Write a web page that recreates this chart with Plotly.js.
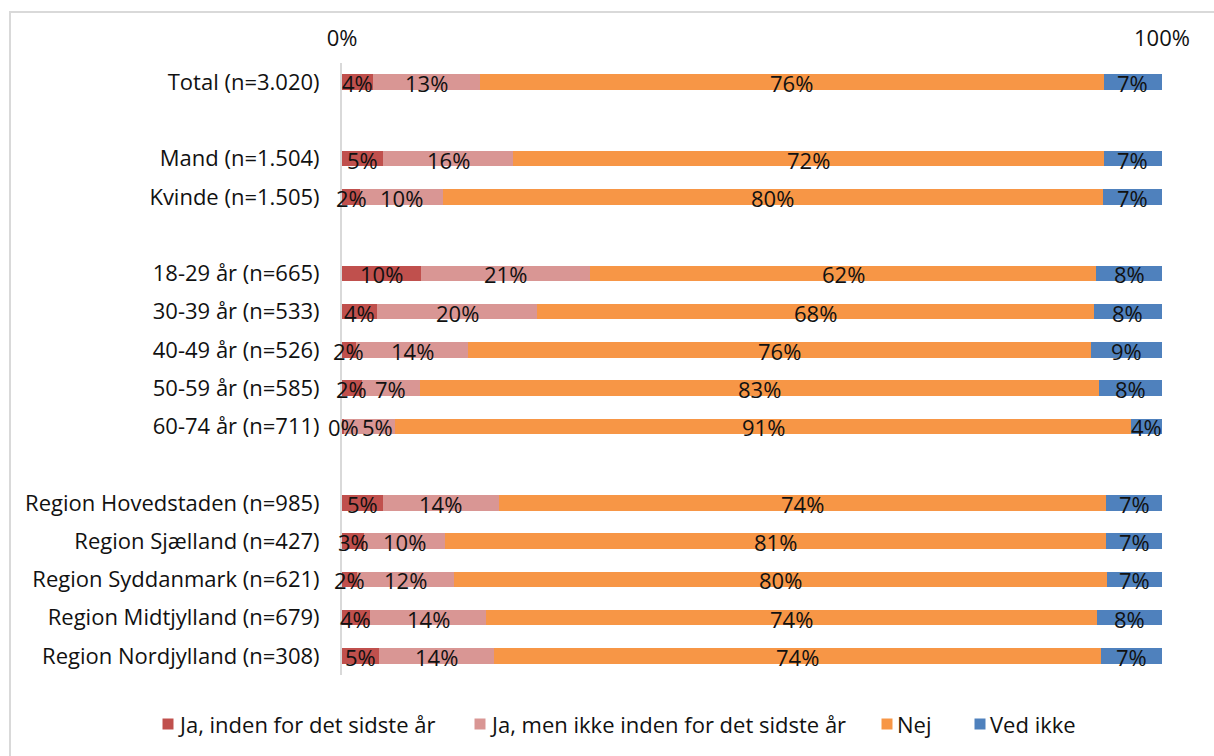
<!DOCTYPE html>
<html>
<head>
<meta charset="utf-8">
<script src="https://cdn.plot.ly/plotly-3.0.1.min.js"></script>
<style>
  html, body { margin: 0; padding: 0; background: #ffffff; }
  #chart { width: 1214px; height: 756px; }
</style>
</head>
<body>
<div id="chart"></div>
<script>
// Categories (blank entries are spacer rows)
const categories = [
  "Total (n=3.020)", " ",
  "Mand (n=1.504)", "Kvinde (n=1.505)", "  ",
  "18-29 år (n=665)", "30-39 år (n=533)", "40-49 år (n=526)", "50-59 år (n=585)", "60-74 år (n=711)", "   ",
  "Region Hovedstaden (n=985)", "Region Sjælland (n=427)", "Region Syddanmark (n=621)",
  "Region Midtjylland (n=679)", "Region Nordjylland (n=308)"
];

const seriesNames = ["Ja, inden for det sidste år", "Ja, men ikke inden for det sidste år", "Nej", "Ved ikke"];

// Values (share in %)
const jaSidsteAar   = [3.8, null, 5.0, 2.2, null, 9.6, 4.3, 1.7, 2.4, 0.3, null, 5.0, 2.7, 1.8, 3.4, 4.5];
const jaIkkeSidste  = [13.0, null, 15.9, 10.1, null, 20.6, 19.5, 13.7, 7.1, 6.2, null, 14.1, 9.9, 11.8, 14.2, 14.0];
const nej           = [76.1, null, 72.0, 80.5, null, 61.8, 67.9, 75.9, 82.8, 89.7, null, 74.1, 80.6, 79.7, 74.5, 74.1];
const vedIkke       = [7.1, null, 7.1, 7.2, null, 8.0, 8.3, 8.7, 7.7, 3.8, null, 6.8, 6.8, 6.7, 7.9, 7.4];

// Data labels as printed on the chart
const lblJaSidste  = ["4%", "", "5%", "2%", "", "10%", "4%", "2%", "2%", "0%", "", "5%", "3%", "2%", "4%", "5%"];
const lblJaIkke    = ["13%", "", "16%", "10%", "", "21%", "20%", "14%", "7%", "5%", "", "14%", "10%", "12%", "14%", "14%"];
const lblNej       = ["76%", "", "72%", "80%", "", "62%", "68%", "76%", "83%", "91%", "", "74%", "81%", "80%", "74%", "74%"];
const lblVedIkke   = ["7%", "", "7%", "7%", "", "8%", "8%", "9%", "8%", "4%", "", "7%", "7%", "7%", "8%", "7%"];

const xTickVals = [0, 100];
const xTickText = ["0%", "100%"];

const colors = ["#C0504D", "#D99694", "#F79646", "#4F81BD"];
const FONT = "Open Sans, Lato, sans-serif";
const FS = 22;
const TXT = "#111111";

const valueSets = [jaSidsteAar, jaIkkeSidste, nej, vedIkke];
const labelSets = [lblJaSidste, lblJaIkke, lblNej, lblVedIkke];

// plot-area geometry (pixels)
const M = { l: 342, r: 52, t: 63, b: 81 };
const PW = 1214 - M.l - M.r;   // 820
const PH = 756 - M.t - M.b;    // 612
const pxToPaperX = px => (px - M.l) / PW;
const pxToPaperY = py => (M.t + PH - py) / PH;

const traces = valueSets.map((vals, i) => ({
  type: "bar",
  orientation: "h",
  name: seriesNames[i],
  y: categories,
  x: vals,
  marker: { color: colors[i], line: { width: 0 } },
  hoverinfo: "skip",
  showlegend: false
}));

// Data labels centred in each segment; a label that would collide with the
// previous one in the same row is nudged right just enough to clear it.
const annotations = [];
const unitsPerPx = 100 / PW;
const approxWidth = s => s.length * 0.68 * FS * unitsPerPx;
categories.forEach((cat, j) => {
  let start = 0;
  let prevRight = -Infinity;
  valueSets.forEach((vals, i) => {
    const v = vals[j];
    if (v === null || v === undefined) return;
    const txt = labelSets[i][j];
    const w = approxWidth(txt);
    let cx = start + v / 2;
    const minCx = prevRight + 4 * unitsPerPx + w / 2;
    if (cx < minCx) cx = minCx;
    annotations.push({
      x: cx, y: cat, xref: "x", yref: "y",
      text: txt, showarrow: false,
      xanchor: "center", yanchor: "middle", yshift: -1,
      font: { family: FONT, size: FS, color: TXT }
    });
    prevRight = cx + w / 2;
    start += v;
  });
});

// Legend drawn as squares + text, laid out in one row as in the reference
const legendMarkerPx = [168, 480, 887, 980];
const legendY = 724;
const shapes = [{
  type: "rect",
  xref: "paper", yref: "paper",
  x0: pxToPaperX(10), x1: pxToPaperX(1240),
  y0: -0.2, y1: pxToPaperY(12),
  line: { color: "#D9D9D9", width: 2 },
  fillcolor: "rgba(0,0,0,0)",
  layer: "below"
}];
seriesNames.forEach((name, i) => {
  const cx = legendMarkerPx[i];
  shapes.push({
    type: "rect", xref: "paper", yref: "paper",
    x0: pxToPaperX(cx - 5.5), x1: pxToPaperX(cx + 5.5),
    y0: pxToPaperY(legendY + 5.5), y1: pxToPaperY(legendY - 5.5),
    line: { width: 0 }, fillcolor: colors[i]
  });
  annotations.push({
    xref: "paper", yref: "paper",
    x: pxToPaperX(cx + 8), y: pxToPaperY(legendY),
    xanchor: "left", yanchor: "middle",
    text: name, showarrow: false,
    font: { family: FONT, size: FS, color: TXT }
  });
});

const layout = {
  width: 1214,
  height: 756,
  barmode: "stack",
  bargap: 0.6,
  margin: { l: M.l, r: M.r, t: M.t, b: M.b, autoexpand: false },
  paper_bgcolor: "#ffffff",
  plot_bgcolor: "#ffffff",
  font: { family: FONT, size: FS, color: TXT },
  showlegend: false,
  xaxis: {
    side: "top",
    range: [0, 100],
    tickvals: xTickVals,
    ticktext: xTickText,
    showgrid: true,
    gridcolor: "#D9D9D9",
    gridwidth: 2,
    zeroline: false,
    showline: false,
    ticks: "",
    ticklabelstandoff: 12,
    tickfont: { family: FONT, size: FS, color: TXT },
    fixedrange: true
  },
  yaxis: {
    type: "category",
    categoryorder: "array",
    categoryarray: categories,
    autorange: "reversed",
    showgrid: false,
    zeroline: false,
    showline: true,
    linecolor: "#D9D9D9",
    linewidth: 2,
    ticks: "",
    ticklabelstandoff: 16,
    tickfont: { family: FONT, size: FS, color: TXT },
    fixedrange: true
  },
  annotations: annotations,
  shapes: shapes
};

Plotly.newPlot("chart", traces, layout, { displayModeBar: false, staticPlot: true });
</script>
</body>
</html>
